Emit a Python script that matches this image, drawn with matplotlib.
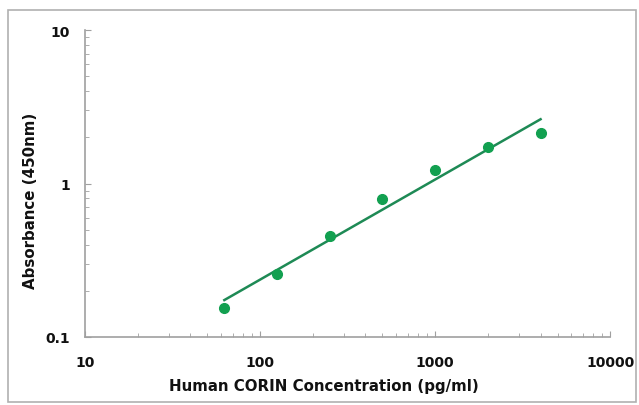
import numpy as np
import matplotlib.pyplot as plt
from matplotlib.patches import Rectangle
from matplotlib.ticker import LogLocator, NullFormatter, FixedLocator, FixedFormatter

plt.rcParams['font.family'] = ['DejaVu Sans']

# standard curve data
concentration = [62.5, 125, 250, 500, 1000, 2000, 4000]
absorbance = [0.155, 0.257, 0.455, 0.79, 1.22, 1.73, 2.13]

x_ticks = [10, 100, 1000, 10000]
x_tick_labels = ['10', '100', '1000', '10000']
y_ticks = [0.1, 1, 10]
y_tick_labels = ['0.1', '1', '10']

# power trendline (straight line on log-log axes)
slope, intercept = np.polyfit(np.log10(concentration), np.log10(absorbance), 1)
x_fit = np.array([concentration[0], concentration[-1]])
y_fit = 10 ** (intercept + slope * np.log10(x_fit))

fig = plt.figure(figsize=(6.39, 4.06), dpi=100)
ax = fig.add_axes([0.133, 0.1675, 0.822, 0.756])

ax.plot(x_fit, y_fit, color='#1e8a55', linewidth=1.8, zorder=2)
ax.plot(concentration, absorbance, 'o', color='#12a050', markersize=7, zorder=3)

ax.set_xscale('log')
ax.set_yscale('log')
ax.set_xlim(10, 10000)
ax.set_ylim(0.1, 10)

ax.xaxis.set_major_locator(FixedLocator(x_ticks))
ax.xaxis.set_major_formatter(FixedFormatter(x_tick_labels))
ax.yaxis.set_major_locator(FixedLocator(y_ticks))
ax.yaxis.set_major_formatter(FixedFormatter(y_tick_labels))
ax.xaxis.set_minor_locator(LogLocator(base=10, subs=np.arange(2, 10)))
ax.yaxis.set_minor_locator(LogLocator(base=10, subs=np.arange(2, 10)))
ax.xaxis.set_minor_formatter(NullFormatter())
ax.yaxis.set_minor_formatter(NullFormatter())

for side in ['top', 'right']:
    ax.spines[side].set_visible(False)
for side in ['left', 'bottom']:
    ax.spines[side].set_color('#a0a0a0')
    ax.spines[side].set_linewidth(1.2)

ax.tick_params(which='both', direction='in', color='#a0a0a0')
ax.tick_params(which='major', length=4, labelsize=10, labelcolor='#111111')
ax.tick_params(which='minor', length=3)
ax.tick_params(axis='y', which='major', pad=11)
ax.tick_params(axis='x', which='major', pad=13)
for lab in ax.get_xticklabels() + ax.get_yticklabels():
    lab.set_fontweight('bold')

# axis titles placed at their pixel positions in the reference
fig.text(324 / 639, 1 - 387 / 406, 'Human CORIN Concentration (pg/ml)', fontsize=10.8,
         fontweight='bold', color='#111111', ha='center', va='center')
fig.text(31 / 639, 1 - 201 / 406, 'Absorbance (450nm)', fontsize=10.8, rotation=90,
         fontweight='bold', color='#111111', ha='center', va='center')

fig.patches.append(Rectangle((8 / 639, 3 / 406), 628 / 639, 392 / 406, transform=fig.transFigure,
                             fill=False, edgecolor='#b0b0b0', linewidth=1.2))

fig.savefig('out.png', dpi=100)
